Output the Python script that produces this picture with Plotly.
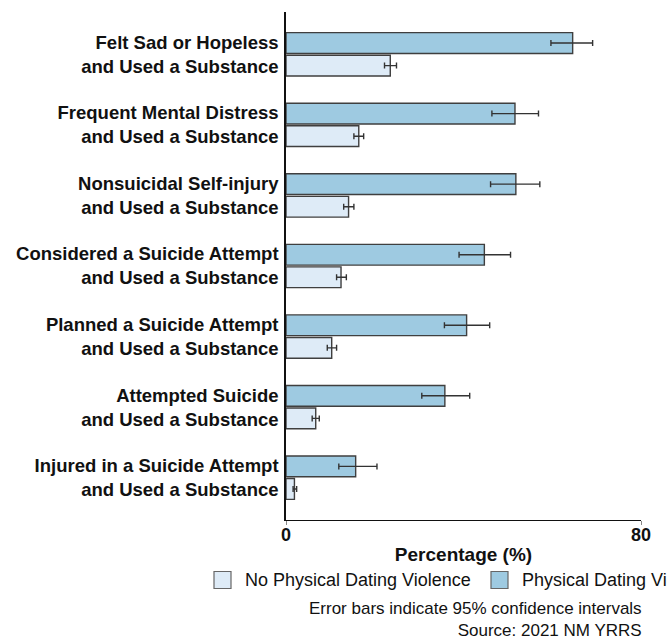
import plotly.graph_objects as go

# Outcome categories (top to bottom)
categories = [
    "Felt Sad or Hopeless<br>and Used a Substance",
    "Frequent Mental Distress<br>and Used a Substance",
    "Nonsuicidal Self-injury<br>and Used a Substance",
    "Considered a Suicide Attempt<br>and Used a Substance",
    "Planned a Suicide Attempt<br>and Used a Substance",
    "Attempted Suicide<br>and Used a Substance",
    "Injured in a Suicide Attempt<br>and Used a Substance",
]

# Physical dating violence: estimate with 95% CI bounds (%)
pdv_value = [64.6, 51.6, 51.8, 44.7, 40.7, 35.8, 15.7]
pdv_lower = [59.7, 46.4, 46.1, 39.0, 35.7, 30.6, 11.9]
pdv_upper = [69.1, 56.9, 57.2, 50.6, 45.9, 41.4, 20.5]

# No physical dating violence: estimate with 95% CI bounds (%)
no_value = [23.5, 16.4, 14.1, 12.4, 10.3, 6.7, 1.9]
no_lower = [22.2, 15.3, 13.0, 11.4, 9.3, 5.9, 1.6]
no_upper = [24.9, 17.5, 15.3, 13.6, 11.4, 7.5, 2.4]

series_names = ["No Physical Dating Violence", "Physical Dating Violence"]
x_ticks = [0, 80]
footnote = "Error bars indicate 95% confidence intervals<br>Source: 2021 NM YRRS"

PDV_FILL = "#9ECAE1"
NO_FILL = "#DEEBF7"
EDGE = "#3f3f3f"
FONT = "Liberation Sans, Arial, sans-serif"

W, H = 667, 642
M_L, M_R, M_T, M_B = 286, 26, 12, 122


def px_to_paper_x(px):
    return (px - M_L) / (W - M_L - M_R)


def px_to_paper_y(py):
    return (H - M_B - py) / (H - M_T - M_B)


def ci(values, lower, upper):
    return dict(
        type="data",
        symmetric=False,
        array=[u - v for u, v in zip(upper, values)],
        arrayminus=[v - l for v, l in zip(values, lower)],
        color="#333333",
        thickness=1.4,
        width=3,
    )


fig = go.Figure()
fig.add_trace(go.Bar(
    name=series_names[1], y=categories, x=pdv_value, orientation="h",
    marker=dict(color=PDV_FILL, line=dict(color=EDGE, width=1.4)),
    error_x=ci(pdv_value, pdv_lower, pdv_upper), showlegend=False,
))
fig.add_trace(go.Bar(
    name=series_names[0], y=categories, x=no_value, orientation="h",
    marker=dict(color=NO_FILL, line=dict(color=EDGE, width=1.4)),
    error_x=ci(no_value, no_lower, no_upper), showlegend=False,
))

# Legend row below the axis title
shapes = []
annotations = []
for name, fill, sx, tx in [
    (series_names[0], NO_FILL, 214, 243),
    (series_names[1], PDV_FILL, 491, 520),
]:
    shapes.append(dict(
        type="rect", xref="paper", yref="paper",
        x0=px_to_paper_x(sx), x1=px_to_paper_x(sx + 17),
        y0=px_to_paper_y(571.5), y1=px_to_paper_y(588.5),
        fillcolor=fill, line=dict(color="#666666", width=1.2),
    ))
    annotations.append(dict(
        text=name, xref="paper", yref="paper",
        x=px_to_paper_x(tx), y=px_to_paper_y(580),
        xanchor="left", yanchor="middle", showarrow=False,
        font=dict(family=FONT, size=18, color="#111111"),
    ))

# Note and source, right-aligned under the legend
annotations.append(dict(
    text=footnote, xref="paper", yref="paper",
    x=px_to_paper_x(643), y=px_to_paper_y(641),
    xanchor="right", yanchor="bottom", align="right", showarrow=False,
    borderpad=0,
    font=dict(family=FONT, size=17, color="#111111"),
))

fig.update_layout(
    width=W, height=H,
    margin=dict(l=M_L, r=M_R, t=M_T, b=M_B, pad=0),
    paper_bgcolor="white", plot_bgcolor="white",
    barmode="group", bargap=0.36, bargroupgap=0.08,
    font=dict(family=FONT, color="#111111"),
    shapes=shapes, annotations=annotations,
    xaxis=dict(
        range=[0, 80], tickvals=x_ticks, ticktext=[str(t) for t in x_ticks],
        showgrid=False, zeroline=False,
        showline=True, linecolor="#111111", linewidth=1,
        ticks="outside", ticklen=4, tickcolor="#888888", tickwidth=1,
        ticklabelstandoff=-6,
        tickfont=dict(family=FONT, size=18, color="#111111", weight="bold"),
        title=dict(text="<b>Percentage (%)</b>", standoff=4,
                   font=dict(family=FONT, size=19, color="#111111")),
        fixedrange=True,
    ),
    yaxis=dict(
        type="category", range=[6.6, -0.6],
        showgrid=False, zeroline=False,
        showline=True, linecolor="#111111", linewidth=1.5,
        ticks="", ticklabelstandoff=2,
        tickfont=dict(family=FONT, size=18.5, color="#111111", weight="bold"),
        fixedrange=True,
    ),
    showlegend=False,
)

fig.write_html("out.html")
